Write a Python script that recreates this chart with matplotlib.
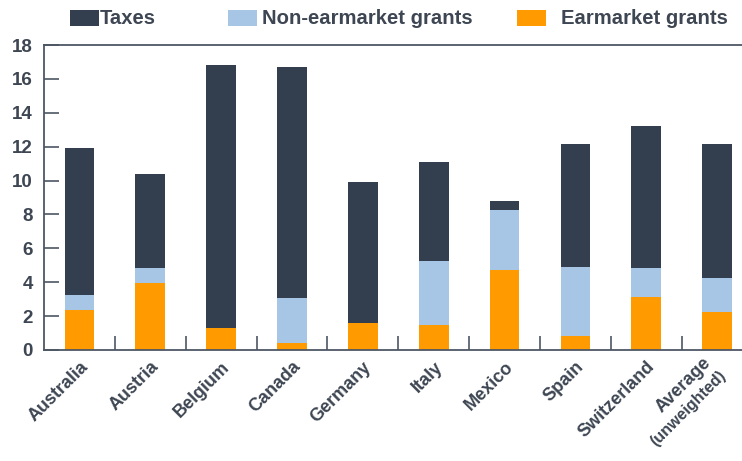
import matplotlib
matplotlib.use("Agg")
import matplotlib.pyplot as plt
from matplotlib.patches import Rectangle
import numpy as np

categories = ["Australia", "Austria", "Belgium", "Canada", "Germany",
              "Italy", "Mexico", "Spain", "Switzerland", "Average"]
sublabel = "(unweighted)"
earmark = [2.36, 3.94, 1.28, 0.39, 1.61, 1.48, 4.72, 0.83, 3.15, 2.26]
nonearmark = [0.89, 0.88, 0.0, 2.66, 0.0, 3.79, 3.54, 4.09, 1.67, 2.01]
taxes = [8.65, 5.55, 15.54, 13.64, 8.33, 5.85, 0.56, 7.22, 8.42, 7.87]
yticks = [0, 2, 4, 6, 8, 10, 12, 14, 16, 18]
legend_labels = ["Taxes", "Non-earmarket grants", "Earmarket grants"]

C_TAX = "#333f4f"
C_NON = "#a7c5e5"
C_EAR = "#ff9a00"
TXT = "#3d4652"
AX = "#4d5764"
FONT = "Liberation Sans"

W, H = 742, 461
fig = plt.figure(figsize=(W / 100, H / 100), dpi=100)
ax = fig.add_axes([44 / W, 1 - 350 / H, 1 - 44 / W, (350 - 45) / H])

x = np.arange(len(categories))
e = np.array(earmark)
n = np.array(nonearmark)
t = np.array(taxes)
bw = 0.42
ax.bar(x, e, width=bw, color=C_EAR, linewidth=0)
ax.bar(x, n, width=bw, bottom=e, color=C_NON, linewidth=0)
ax.bar(x, t, width=bw, bottom=e + n, color=C_TAX, linewidth=0)

ax.set_xlim(-0.5, 9.35)
ax.set_ylim(0, 18)
ax.set_yticks(yticks)
ax.set_yticklabels([str(v) for v in yticks])

for s in ["left", "bottom", "top"]:
    ax.spines[s].set_color(AX)
    ax.spines[s].set_linewidth(1.3)
ax.spines["right"].set_visible(False)

ax.tick_params(axis="y", direction="in", length=11, width=1.2, color=AX,
               labelsize=13.5, labelcolor=TXT, pad=8)
for lab in ax.get_yticklabels():
    lab.set_fontweight("bold")
    lab.set_family(FONT)

ax.set_xticks(x)
ax.set_xticklabels(categories[:-1] + [""], rotation=45, ha="right",
                   rotation_mode="anchor", fontsize=13, fontweight="bold",
                   color=TXT, family=FONT)
ax.tick_params(axis="x", which="major", length=0, pad=6)
ax.set_xticks(np.arange(len(categories) - 1) + 0.5, minor=True)
ax.tick_params(axis="x", which="minor", direction="in", length=10, width=1.2, color=AX)

# two-line label for the average bar
ax.annotate(categories[-1], xy=(x[-1], 0), xycoords="data", xytext=(-11, -3),
            textcoords="offset points", rotation=45, ha="right", va="top",
            rotation_mode="anchor", fontsize=13, fontweight="bold", color=TXT,
            family=FONT, annotation_clip=False)
ax.annotate(sublabel, xy=(x[-1], 0), xycoords="data", xytext=(1, -13),
            textcoords="offset points", rotation=45, ha="right", va="top",
            rotation_mode="anchor", fontsize=11.5, fontweight="bold", color=TXT,
            family=FONT, annotation_clip=False)

# legend
for px, tx, col, lab in [(70, 100, C_TAX, legend_labels[0]),
                         (228, 262, C_NON, legend_labels[1]),
                         (517, 561, C_EAR, legend_labels[2])]:
    fig.patches.append(Rectangle((px / W, 1 - 26 / H), 29 / W, 16 / H,
                                 transform=fig.transFigure, color=col, lw=0))
    fig.text(tx / W, 1 - 18 / H, lab, ha="left", va="center", fontsize=14.6,
             fontweight="bold", color=TXT, family=FONT)

fig.savefig("out.png", dpi=100, facecolor="white")
